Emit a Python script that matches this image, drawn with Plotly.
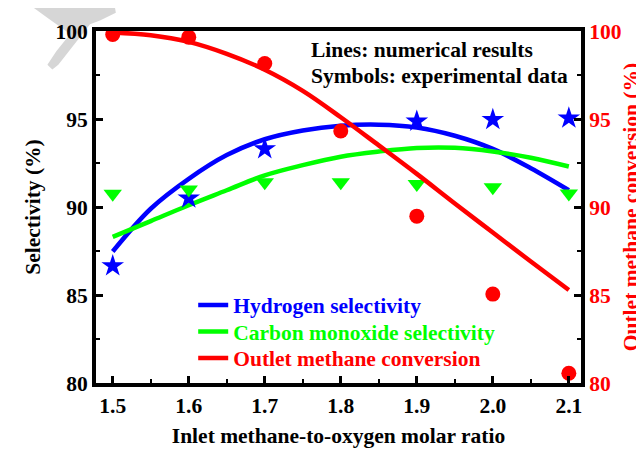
import plotly.graph_objects as go

# ---- data ----
ratio_exp = [1.5, 1.6, 1.7, 1.8, 1.9, 2.0, 2.1]
h2_exp = [86.65, 90.5, 93.3, None, 94.87, 94.96, 95.05]
co_exp = [90.75, 91.0, 91.4, 91.4, 91.3, 91.12, 90.76]
conv_exp = [99.8, 99.65, 98.15, 94.32, 89.48, 85.05, 80.55]

ratio_model = [1.5, 1.55, 1.6, 1.65, 1.7, 1.75, 1.8, 1.85, 1.9, 1.95, 2.0, 2.05, 2.1]
h2_model = [87.47, 89.9, 91.6, 92.95, 93.85, 94.35, 94.62, 94.68, 94.52, 94.05, 93.3, 92.2, 90.95]
co_model = [88.3, 89.2, 90.1, 90.95, 91.8, 92.38, 92.86, 93.15, 93.35, 93.36, 93.15, 92.8, 92.3]
conv_model = [99.92, 99.76, 99.38, 98.7, 97.8, 96.6, 95.1, 93.5, 91.88, 90.2, 88.55, 86.9, 85.28]

x_ticks = [1.5, 1.6, 1.7, 1.8, 1.9, 2.0, 2.1]
y_ticks = [80, 85, 90, 95, 100]

BLUE, GREEN, RED = "#0000FF", "#00FF00", "#FF0000"
FONT = "Liberation Serif"
FS = 21.5

# plot-area geometry (pixels) used only to place decorations in paper units
W, H = 644, 449
ML, MR, MT, MB = 88, 67, 23, 60
PW, PH = W - ML - MR, H - MT - MB


def px2paper(px, py):
    return (px - ML) / PW, (H - MB - py) / PH


fig = go.Figure()

fig.add_trace(go.Scatter(x=ratio_model, y=h2_model, mode="lines", name="Hydrogen selectivity",
                         line=dict(color=BLUE, width=4.5, shape="spline"), legend="legend"))
fig.add_trace(go.Scatter(x=ratio_model, y=co_model, mode="lines", name="Carbon monoxide selectivity",
                         line=dict(color=GREEN, width=4.5, shape="spline"), legend="legend2"))
fig.add_trace(go.Scatter(x=ratio_model, y=conv_model, mode="lines", name="Outlet methane conversion",
                         line=dict(color=RED, width=4.5, shape="spline"), legend="legend3", yaxis="y2"))

fig.add_trace(go.Scatter(x=ratio_exp, y=h2_exp, mode="markers", showlegend=False, cliponaxis=False,
                         marker=dict(symbol="star", size=17, color=BLUE)))
fig.add_trace(go.Scatter(x=ratio_exp, y=co_exp, mode="markers", showlegend=False, cliponaxis=False,
                         marker=dict(symbol="triangle-down", size=16, color=GREEN)))
fig.add_trace(go.Scatter(x=ratio_exp, y=conv_exp, mode="markers", showlegend=False, cliponaxis=False,
                         marker=dict(symbol="circle", size=15, color=RED), yaxis="y2"))

tickfont_black = dict(family=FONT, size=FS, color="black", weight="bold")
tickfont_red = dict(family=FONT, size=FS, color=RED, weight="bold")


def leg(y, color):
    return dict(x=px2paper(186, 0)[0], y=y, xanchor="left", yanchor="middle",
                bgcolor="rgba(0,0,0,0)", borderwidth=0,
                font=dict(family=FONT, size=FS, color=color, weight="bold"))


fig.update_layout(
    width=W, height=H,
    margin=dict(l=ML, r=MR, t=MT, b=MB),
    paper_bgcolor="white", plot_bgcolor="white",
    font=dict(family=FONT, size=FS, weight="bold"),
    xaxis=dict(range=[1.478, 2.116], tickvals=x_ticks, tickformat=".1f",
               ticks="inside", ticklen=7, tickwidth=3, tickcolor="black",
               minor=dict(dtick=0.05, tick0=1.5, ticks="inside", ticklen=4, tickwidth=2, tickcolor="black"),
               showline=True, linecolor="black", linewidth=4, mirror=True,
               showgrid=False, zeroline=False, tickfont=tickfont_black,
               title=dict(text="Inlet methane-to-oxygen molar ratio", standoff=12,
                          font=dict(family=FONT, size=FS, color="black", weight="bold"))),
    yaxis=dict(range=[80, 100], tickvals=y_ticks,
               ticks="inside", ticklen=7, tickwidth=3, tickcolor="black",
               minor=dict(dtick=2.5, tick0=80, ticks="inside", ticklen=4, tickwidth=2, tickcolor="black"),
               showline=True, linecolor="black", linewidth=4,
               showgrid=False, zeroline=False, tickfont=tickfont_black,
               title=dict(text="Selectivity (%)", standoff=10,
                          font=dict(family=FONT, size=FS, color="black", weight="bold"))),
    yaxis2=dict(range=[80, 100], tickvals=y_ticks, overlaying="y", side="right",
                ticks="inside", ticklen=7, tickwidth=3, tickcolor="black",
                minor=dict(dtick=2.5, tick0=80, ticks="inside", ticklen=4, tickwidth=2, tickcolor="black"),
                showline=True, linecolor="black", linewidth=4,
                showgrid=False, zeroline=False, tickfont=tickfont_red,
                title=dict(text="Outlet methane conversion (%)", standoff=3,
                           font=dict(family=FONT, size=FS, color=RED, weight="bold"))),
    legend=leg(px2paper(0, 308)[1], BLUE),
    legend2=leg(px2paper(0, 335.5)[1], GREEN),
    legend3=leg(px2paper(0, 363)[1], RED),
    showlegend=True,
)

fig.add_annotation(x=px2paper(303, 0)[0], y=px2paper(0, 43)[1], xref="paper", yref="paper",
                   xanchor="left", yanchor="middle",
                   text="Lines: numerical results", showarrow=False,
                   font=dict(family=FONT, size=FS, color="black", weight="bold"))
fig.add_annotation(x=px2paper(303, 0)[0], y=px2paper(0, 70)[1], xref="paper", yref="paper",
                   xanchor="left", yanchor="middle",
                   text="Symbols: experimental data", showarrow=False,
                   font=dict(family=FONT, size=FS, color="black", weight="bold"))

# light-grey watermark fragment in the top-left corner
wm = [(24, -2), (107, -2), (108, 4), (92, 12), (82, 16), (50, 58), (44, 63), (39, 58),
      (48, 44), (62, 26), (40, 10)]
path = "M " + " L ".join("%.4f,%.4f" % px2paper(a, b) for a, b in wm) + " Z"
fig.add_shape(type="path", path=path, xref="paper", yref="paper", layer="below",
              fillcolor="#d6d6d6", line=dict(width=0))

fig.write_html("out.html")
